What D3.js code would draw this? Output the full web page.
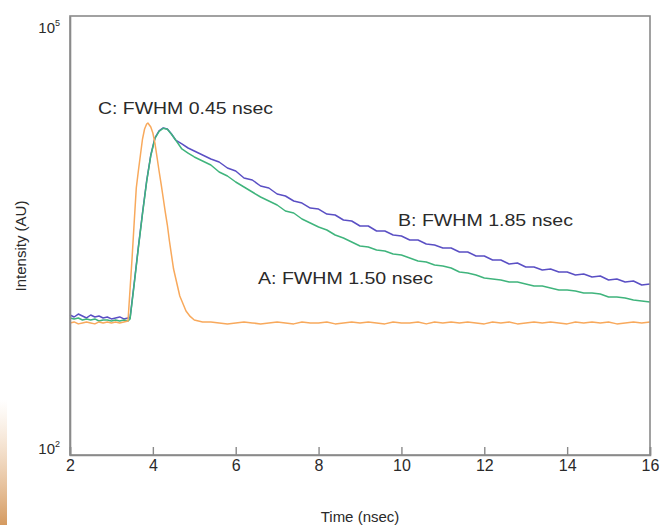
<!DOCTYPE html>
<html>
<head>
<meta charset="utf-8">
<script src="https://cdn.jsdelivr.net/npm/d3@7"></script>
<style>
  html, body { margin: 0; padding: 0; background: #ffffff; }
  svg { display: block; }
  text { font-family: "Liberation Sans", Arial, Helvetica, sans-serif; fill: #2a2a2a; }
</style>
</head>
<body>
<svg id="chart" width="661" height="525"></svg>
<script>
// ---- Data ----
const xTicks = [2, 4, 6, 8, 10, 12, 14, 16];
const yTickValues = [100, 100000];
const yTickExponents = ["2", "5"];
const xLabel = "Time (nsec)";
const yLabel = "Intensity (AU)";

// Shared time grid for series A and B (nsec)
const timeAB = [2.0, 2.1, 2.2, 2.3, 2.4, 2.5, 2.6, 2.7, 2.8, 2.9, 3.0, 3.1, 3.2, 3.3, 3.4,
  3.45, 3.55, 3.65, 3.75, 3.85, 3.95, 4.05, 4.15, 4.25, 4.35, 4.45, 4.55, 4.7, 4.85, 5.0,
  5.2, 5.4, 5.6, 5.8, 6.0, 6.2, 6.4, 6.6, 6.8, 7.0, 7.2, 7.4, 7.6, 7.8, 8.0, 8.2, 8.4, 8.6, 8.8,
  9.0, 9.2, 9.4, 9.6, 9.8, 10.0, 10.2, 10.4, 10.6, 10.8, 11.0, 11.2, 11.4, 11.6, 11.8,
  12.0, 12.2, 12.4, 12.6, 12.8, 13.0, 13.2, 13.4, 13.6, 13.8, 14.0, 14.2, 14.4, 14.6, 14.8,
  15.0, 15.2, 15.4, 15.6, 15.8, 16.0];

// B: FWHM 1.85 nsec (intensity, AU)
const seriesB = [905, 877, 919, 891, 864, 905, 877, 891, 864, 877, 851, 864, 878, 851, 864,
  864, 1498, 2639, 4506, 7456, 11220, 14670, 16380, 17170, 16900, 15620, 14200, 13350, 12530, 11950,
  11220, 10540, 10050, 9146, 8724, 7814, 7572, 6890, 6676, 6075, 5887, 5441, 5272, 4873, 4797, 4434, 4365, 4035, 3972,
  3672, 3672, 3394, 3394, 3187, 3137, 2946, 2946, 2766, 2723, 2597, 2597, 2439, 2439, 2290,
  2290, 2151, 2151, 2019, 2051, 1926, 1926, 1837, 1866, 1780, 1780, 1698, 1725, 1646, 1672,
  1570, 1595, 1521, 1545, 1451, 1474];

// A: FWHM 1.50 nsec (intensity, AU)
const seriesA = [864, 851, 864, 837, 851, 837, 851, 824, 837, 837, 824, 837, 824, 837, 824,
  851, 1470, 2600, 4450, 7380, 11100, 14550, 16300, 17100, 16850, 15550, 14200, 12340, 11580, 10880,
  10211, 9588, 8588, 8064, 7337, 6782, 6269, 5795, 5441, 5109, 4649, 4505, 4099, 3849, 3614, 3448, 3187, 3040, 2855,
  2681, 2639, 2517, 2478, 2363, 2326, 2219, 2117, 2084, 1988, 1957, 1896, 1780, 1753, 1698,
  1620, 1595, 1570, 1521, 1521, 1474, 1428, 1428, 1384, 1341, 1341, 1320, 1279, 1279, 1259,
  1201, 1201, 1183, 1146, 1128, 1111];

// C: FWHM 0.45 nsec (instrument response)
const timeC = [2.0, 2.1, 2.2, 2.3, 2.4, 2.5, 2.6, 2.7, 2.8, 2.9, 3.0, 3.1, 3.2, 3.3,
  3.4, 3.5, 3.55, 3.6, 3.65, 3.7, 3.75, 3.8, 3.85, 3.88, 3.95, 4.0, 4.05, 4.1, 4.15, 4.2, 4.25,
  4.3, 4.35, 4.4, 4.45, 4.5, 4.55, 4.6, 4.65, 4.7, 4.8, 4.9, 5.0, 5.1,
  5.2, 5.4, 5.6, 5.8, 6.0, 6.2, 6.4, 6.6, 6.8, 7.0, 7.2, 7.4, 7.6, 7.8, 8.0, 8.2, 8.4, 8.6, 8.8,
  9.0, 9.2, 9.4, 9.6, 9.8, 10.0, 10.2, 10.4, 10.6, 10.8, 11.0, 11.2, 11.4, 11.6, 11.8,
  12.0, 12.2, 12.4, 12.6, 12.8, 13.0, 13.2, 13.4, 13.6, 13.8, 14.0, 14.2, 14.4, 14.6, 14.8,
  15.0, 15.2, 15.4, 15.6, 15.8, 16.0];
const seriesC = [799, 812, 787, 799, 812, 799, 787, 812, 799, 812, 799, 812, 799, 812,
  824, 2254, 3910, 6676, 8724, 11220, 14430, 16900, 18280, 18570, 17440, 15870, 13540, 10874, 8724, 7110, 5704,
  4576, 3730, 2900, 2326, 1866, 1620, 1406, 1220, 1128, 964, 885, 837, 824,
  812, 812, 799, 787, 799, 812, 799, 787, 799, 812, 799, 787, 812, 799, 799, 812, 787, 799, 812,
  799, 812, 799, 787, 812, 799, 799, 812, 787, 812, 799, 812, 799, 812, 799,
  787, 812, 799, 812, 787, 799, 812, 799, 812, 799, 787, 812, 799, 812, 799,
  812, 787, 799, 812, 799, 812];

const seriesNames = ["B: FWHM 1.85 nsec", "A: FWHM 1.50 nsec", "C: FWHM 0.45 nsec"];
const seriesColors = ["#5a4fc4", "#3fb47c", "#f8a95c"];

// ---- Drawing ----
const svg = d3.select("#chart");
const plotL = 70, plotR = 650, plotT = 16, plotB = 455;

// left-edge decorative shading
const defs = svg.append("defs");
const grad = defs.append("linearGradient").attr("id", "edge").attr("x1", 0).attr("y1", 0).attr("x2", 0).attr("y2", 1);
grad.append("stop").attr("offset", "0%").attr("stop-color", "#e8b98a").attr("stop-opacity", 0);
grad.append("stop").attr("offset", "100%").attr("stop-color", "#d08f4e").attr("stop-opacity", 0.9);
svg.append("rect").attr("x", 0).attr("y", 400).attr("width", 7).attr("height", 125).attr("fill", "url(#edge)");

const x = d3.scaleLinear().domain([2, 16]).range([plotL, plotR]);
const y = d3.scaleLog().domain([100, 100000]).range([plotB, plotT]);

const line = d3.line().x(d => x(d[0])).y(d => y(d[1]));

const seriesData = [
  d3.zip(timeAB, seriesB),
  d3.zip(timeAB, seriesA),
  d3.zip(timeC, seriesC)
];

svg.append("g").selectAll("path")
  .data(seriesData)
  .join("path")
  .attr("d", line)
  .attr("fill", "none")
  .attr("stroke", (d, i) => seriesColors[i])
  .attr("stroke-width", 1.5)
  .attr("stroke-linejoin", "round");

// frame
svg.append("rect")
  .attr("x", plotL).attr("y", plotT)
  .attr("width", plotR - plotL).attr("height", plotB - plotT)
  .attr("fill", "none").attr("stroke", "#8a8a8a").attr("stroke-width", 1.6);

// bottom axis (inward ticks)
const xAxis = svg.append("g")
  .attr("transform", `translate(0,${plotB})`)
  .call(d3.axisBottom(x).tickValues(xTicks).tickSize(-8).tickPadding(5).tickFormat(d3.format("d")));
xAxis.select(".domain").attr("stroke", "#8a8a8a").attr("stroke-width", 1.6);
xAxis.selectAll(".tick line").attr("stroke", "#8a8a8a").attr("stroke-width", 1.4);
xAxis.selectAll(".tick text").attr("font-size", 16).attr("fill", "#2a2a2a")
  .attr("font-family", "'Liberation Sans', Arial, sans-serif");

// left axis (no ticks, labels 10^n)
const yAxis = svg.append("g")
  .attr("transform", `translate(${plotL},0)`)
  .call(d3.axisLeft(y).tickValues(yTickValues).tickSize(0).tickFormat(""));
yAxis.select(".domain").attr("stroke", "#8a8a8a").attr("stroke-width", 1.6);
const yl = svg.append("g").selectAll("text")
  .data(yTickValues)
  .join("text")
  .attr("x", 60)
  .attr("y", (d, i) => i === 0 ? y(d) - 1 : y(d) + 17)
  .attr("text-anchor", "end")
  .attr("font-size", 15);
yl.append("tspan").text("10");
yl.append("tspan").attr("font-size", 9).attr("dy", -7).text((d, i) => yTickExponents[i]);

// axis titles
svg.append("text")
  .attr("x", 360).attr("y", 522)
  .attr("text-anchor", "middle")
  .attr("font-size", 15)
  .text(xLabel);
svg.append("text")
  .attr("transform", `translate(26,246) rotate(-90)`)
  .attr("text-anchor", "middle")
  .attr("font-size", 15)
  .text(yLabel);

// series annotations
const labelPos = [
  { x: 398, y: 226 },
  { x: 258, y: 284 },
  { x: 98, y: 114 }
];
svg.append("g").selectAll("text")
  .data(seriesNames)
  .join("text")
  .attr("x", (d, i) => labelPos[i].x)
  .attr("y", (d, i) => labelPos[i].y)
  .attr("font-size", 16)
  .attr("textLength", 175)
  .attr("lengthAdjust", "spacingAndGlyphs")
  .text(d => d);
</script>
</body>
</html>
